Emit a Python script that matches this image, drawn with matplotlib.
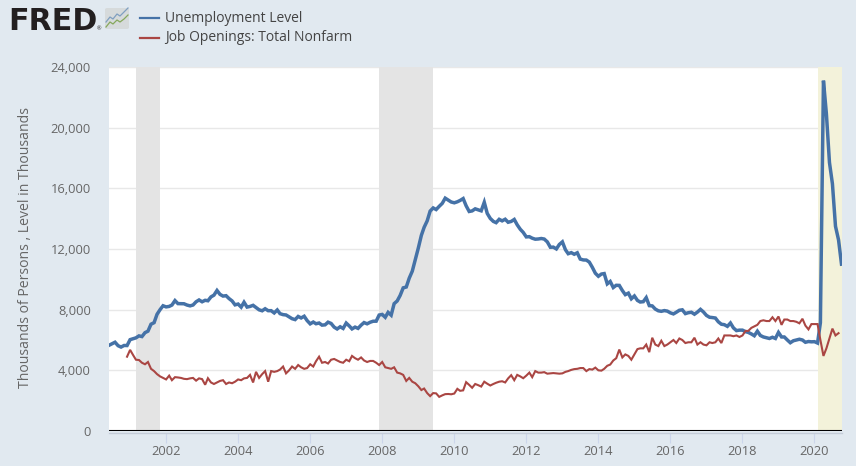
import matplotlib.pyplot as plt
from matplotlib.lines import Line2D
from matplotlib.patches import FancyBboxPatch
from matplotlib.ticker import FuncFormatter
import matplotlib.dates as mdates
import pandas as pd

plt.rcParams['font.family'] = ['Open Sans', 'DejaVu Sans']

# monthly, Jun 2000 - Oct 2020
unemployment = [
    5651, 5747, 5853, 5625, 5534, 5639, 5634,
    6023, 6089, 6141, 6271, 6226, 6484, 6583, 7042, 7142, 7694, 8003, 8258,
    8182, 8215, 8304, 8599, 8399, 8393, 8390, 8304, 8251, 8307, 8520, 8640,
    8520, 8618, 8588, 8842, 8957, 9266, 9011, 8896, 8921, 8732, 8576, 8317,
    8370, 8167, 8491, 8170, 8212, 8286, 8136, 7990, 7927, 8061, 7932, 7934,
    7784, 7980, 7737, 7672, 7651, 7524, 7406, 7345, 7553, 7453, 7566, 7279,
    7064, 7184, 7072, 7120, 6980, 7001, 7175, 7091, 6847, 6727, 6872, 6762,
    7116, 6927, 6731, 6850, 6766, 6979, 7149, 7067, 7170, 7237, 7240, 7645,
    7685, 7497, 7822, 7637, 8395, 8575, 8937, 9438, 9494, 10074, 10538, 11286,
    12058, 12898, 13426, 13853, 14499, 14707, 14601, 14814, 15009, 15352, 15219, 15098,
    15046, 15113, 15202, 15325, 14849, 14474, 14512, 14648, 14579, 14516, 15081, 14348,
    14013, 13820, 13737, 13957, 13855, 13962, 13763, 13818, 13948, 13594, 13302, 13093,
    12797, 12813, 12713, 12646, 12660, 12692, 12656, 12471, 12115, 12124, 12005, 12298,
    12471, 11950, 11689, 11760, 11654, 11751, 11335, 11279, 11270, 11136, 10787, 10404,
    10202, 10349, 10380, 9702, 9859, 9460, 9608, 9599, 9262, 8990, 9090, 8717,
    8903, 8610, 8504, 8526, 8794, 8267, 8248, 8039, 7925, 7892, 7939, 7904,
    7790, 7720, 7830, 7960, 7990, 7740, 7800, 7830, 7700, 7840, 8020, 7850,
    7620, 7500, 7480, 7450, 7200, 7040, 7010, 6900, 7120, 6800, 6620, 6650,
    6650, 6550, 6500, 6400, 6280, 6580, 6300, 6200, 6150, 6100, 6180, 6100,
    6500, 6200, 6200, 6000, 5820, 5950, 6000, 6050, 6000, 5850, 5900, 5880,
    5890, 5800, 7140, 23100, 20900, 17700, 16300, 13500, 12600, 11000,
]

# monthly, Dec 2000 - Sep 2020
job_openings = [
    4900,
    5350, 5000, 4700, 4680, 4500, 4400, 4550, 4100, 3950, 3750, 3600, 3500,
    3400, 3650, 3350, 3550, 3530, 3500, 3440, 3420, 3470, 3500, 3320, 3470,
    3420, 3050, 3480, 3200, 3100, 3200, 3300, 3350, 3100, 3200, 3150, 3250,
    3400, 3350, 3470, 3500, 3700, 3200, 3900, 3500, 3750, 3950, 3250, 3950,
    3900, 3950, 4050, 4250, 3800, 4000, 4250, 4100, 4350, 4200, 4100, 4150,
    4400, 4250, 4600, 4900, 4500, 4550, 4450, 4700, 4750, 4650, 4550, 4500,
    4700, 4600, 4950, 4800, 4700, 4850, 4650, 4550, 4620, 4620, 4500, 4350,
    4550, 4200, 4150, 4100, 4200, 3850, 3800, 3700, 3300, 3500, 3250, 3150,
    2950, 2700, 2800, 2500, 2300, 2500, 2480, 2250, 2350, 2430, 2440, 2420,
    2470, 2780, 2650, 2680, 3220, 3040, 2850, 3100, 3020, 2930, 3250, 3120,
    3000, 3100, 3180, 3250, 3280, 3200, 3470, 3680, 3350, 3700, 3600, 3480,
    3650, 3850, 3550, 3950, 3850, 3850, 3880, 3780, 3800, 3820, 3800, 3780,
    3800, 3900, 3950, 4030, 4080, 4100, 4150, 4150, 3950, 4080, 4050, 4180,
    4000, 3980, 4100, 4300, 4380, 4650, 4800, 5370, 4850, 5050, 4950, 4700,
    5050, 5400, 5450, 5450, 5700, 5200, 6150, 5700, 5600, 5950, 5600, 5700,
    5850, 6000, 5800, 6100, 6000, 5800, 5850, 5850, 6150, 5700, 5850, 5700,
    5650, 5850, 5800, 5850, 6100, 5800, 6300, 6300, 6300, 6250, 6300, 6200,
    6300, 6600, 6600, 6800, 6900, 7000, 7250, 7300, 7250, 7250, 7500, 7250,
    7550, 7000, 7350, 7350, 7250, 7250, 7200, 7100, 7400, 6950, 6700, 7050,
    7050, 7050, 6000, 4950, 5450, 6100, 6750, 6300, 6450,
]

recessions = [('2001-03-01', '2001-11-01'), ('2007-12-01', '2009-06-01')]
covid_start = '2020-02-01'
y_ticks = [0, 4000, 8000, 12000, 16000, 20000, 24000]
x_ticks = list(range(2002, 2022, 2))

unemp_dates = pd.date_range('2000-06-01', periods=len(unemployment), freq='MS')
job_dates = pd.date_range('2000-12-01', periods=len(job_openings), freq='MS')

BLUE = '#4572a7'
RED = '#aa4643'
BG = '#e1e9f0'
W, H = 856, 466

fig = plt.figure(figsize=(W / 100, H / 100), dpi=100, facecolor=BG)
ax = fig.add_axes([109 / W, 1 - 431 / H, 732.5 / W, 364 / H])

for start, end in recessions:
    ax.axvspan(pd.Timestamp(start), pd.Timestamp(end), color='#e4e4e4', lw=0, zorder=2)
ax.axvspan(pd.Timestamp(covid_start), unemp_dates[-1], color='#f3f2da', lw=0, zorder=1)

ax.plot(unemp_dates, unemployment, color=BLUE, lw=2.5, zorder=4, solid_joinstyle='miter')
ax.plot(job_dates, job_openings, color=RED, lw=1.5, zorder=5, solid_joinstyle='miter')
ax.axhline(0, color='black', lw=1.5, zorder=6)

ax.set_xlim(unemp_dates[0], unemp_dates[-1])
ax.set_ylim(0, 24000)
ax.set_yticks(y_ticks)
ax.yaxis.set_major_formatter(FuncFormatter(lambda v, p: f'{int(v):,}'))
ax.set_xticks([pd.Timestamp(f'{y}-01-01') for y in x_ticks])
ax.xaxis.set_major_formatter(mdates.DateFormatter('%Y'))
ax.grid(axis='y', color='#e8e8e8', lw=1.0, zorder=0)
ax.set_axisbelow(True)

for side in ['top', 'right', 'left']:
    ax.spines[side].set_visible(False)
ax.spines['bottom'].set_color('#c4ccd8')
ax.spines['bottom'].set_linewidth(1.0)
ax.spines['bottom'].set_position(('outward', 1.2))

ax.tick_params(axis='y', length=0, pad=13, labelsize=9.3, labelcolor='#666666')
ax.tick_params(axis='x', length=7, width=0.8, color='#ccd6eb', pad=2, labelsize=9.3, labelcolor='#666666')

fig.text(26 / W, 1 - 248 / H, 'Thousands of Persons , Level in Thousands', rotation=90,
         ha='center', va='center', fontsize=10.1, color='#666666')

# legend
legend_items = [('Unemployment Level', BLUE, 18), ('Job Openings: Total Nonfarm', RED, 37.5)]
for label, color, py in legend_items:
    fig.add_artist(Line2D([140 / W, 159 / W], [1 - py / H, 1 - py / H], color=color, lw=1.6))
    fig.text(165 / W, 1 - py / H, label, ha='left', va='center', fontsize=10, color='#444444')

# FRED logo
fig.text(8 / W, 1 - 30 / H, 'FRED', ha='left', va='baseline', fontsize=21.7, fontweight='bold',
         color='#231f20', family='DejaVu Sans')
fig.text(97 / W, 1 - 30.5 / H, '®', ha='left', va='baseline', fontsize=4, color='#231f20')
fig.add_artist(FancyBboxPatch((105 / W, 1 - 29 / H), 24 / W, 21 / H, boxstyle='round,pad=0,rounding_size=0.003',
                              transform=fig.transFigure, fc='#d6dadb', ec='none'))
icon_x = [106, 110, 113, 117, 120, 124, 128]
fig.add_artist(Line2D([x / W for x in icon_x], [1 - y / H for y in [22, 17, 19, 14, 16, 12, 8]], color='#7f9fc0', lw=0.9))
fig.add_artist(Line2D([x / W for x in icon_x], [1 - y / H for y in [27, 22, 24, 20, 22, 19, 15]], color='#86a85c', lw=0.9))

plt.savefig('out.png', dpi=100, facecolor=BG)
